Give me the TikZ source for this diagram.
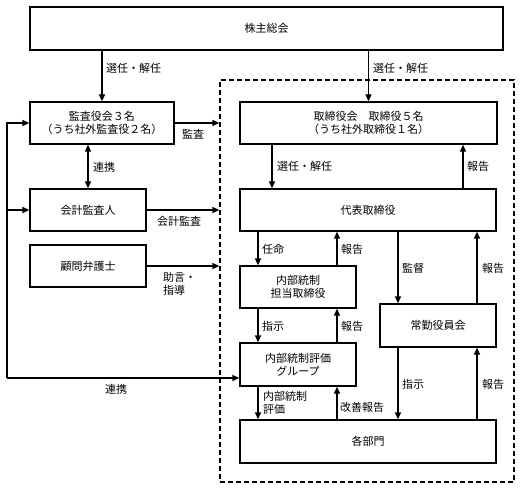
\documentclass[tikz,border=0pt]{standalone}
\usepackage{fontspec}
\setmainfont{Noto Sans CJK JP}
\usetikzlibrary{arrows.meta}
\begin{document}
\begin{tikzpicture}[x=1pt,y=-1pt,
  every node/.style={font=\fontsize{11}{13}\selectfont, inner sep=0pt},
  box/.style={draw, line width=1.3pt, align=center},
  arr/.style={line width=1.3pt, -{Triangle[length=7pt,width=6pt]}},
  darr/.style={line width=1.3pt, {Triangle[length=7pt,width=6pt]}-{Triangle[length=7pt,width=6pt]}},
  lbl/.style={anchor=west, align=left}]
\fill[white] (0,0) rectangle (522,489);
\useasboundingbox (0,0) rectangle (522,489);
% dashed frame
\node[draw, dash pattern=on 5pt off 3pt, line width=1.3pt, minimum width=294pt, minimum height=402pt] (frame) at (367,281) {};
% boxes
\node[box, minimum width=473pt, minimum height=43pt] (kabu) at (266.5,28.5) {株主総会};
\node[box, minimum width=144pt, minimum height=42pt] (kansa) at (102,123) {監査役会３名\\（うち社外監査役２名）};
\node[box, minimum width=257pt, minimum height=42pt] (tori) at (368.5,123) {取締役会　取締役５名\\（うち社外取締役１名）};
\node[box, minimum width=116pt, minimum height=42pt] (kaikei) at (88,210) {会計監査人};
\node[box, minimum width=116pt, minimum height=42pt] (komon) at (88,266) {顧問弁護士};
\node[box, minimum width=256pt, minimum height=42pt] (daihyo) at (368,210) {代表取締役};
\node[box, minimum width=116pt, minimum height=42pt] (tanto) at (298,287) {内部統制\\担当取締役};
\node[box, minimum width=116pt, minimum height=43pt] (jokin) at (438,325.5) {常勤役員会};
\node[box, minimum width=116pt, minimum height=43pt] (grp) at (298,364.5) {内部統制評価\\グループ};
\node[box, minimum width=256pt, minimum height=43pt] (bumon) at (368,441.5) {各部門};
% coordinates
\coordinate (x258) at (258,0);
\coordinate (x272) at (272,0);
\coordinate (x337) at (337,0);
\coordinate (x398) at (398,0);
\coordinate (x463) at (463,0);
\coordinate (x477) at (477,0);
\coordinate (ltop) at (7,123);
\coordinate (lbot) at (7,378);
% shareholders
\draw[arr] (kabu.south -| kansa) -- (kansa.north);
\node[lbl] at (106,68) {選任・解任};
\draw[arr] (kabu.south -| tori) -- (tori.north);
\node[lbl] at (373,68) {選任・解任};
% left side
\draw[arr] (kansa.east) -- (kansa.east -| frame.west);
\node[lbl] at (182,134) {監査};
\draw[darr] (kansa.south -| kaikei) -- (kaikei.north);
\node[lbl] at (93,167) {連携};
\draw[arr] (kaikei.east) -- (kaikei.east -| frame.west);
\node[lbl] at (157,221) {会計監査};
\draw[arr] (komon.east) -- (komon.east -| frame.west);
\node[lbl] at (163,283.5) {助言・\\指導};
% loop
\draw[arr] (lbot) -- (ltop) -- (kansa.west |- ltop);
\draw[arr] (kaikei.west -| ltop) -- (kaikei.west);
\draw[arr] (lbot) -- (grp.west |- lbot);
\node[lbl] at (105,389) {連携};
% board
\draw[arr] (tori.south -| x272) -- (daihyo.north -| x272);
\node[lbl] at (277,166) {選任・解任};
\draw[arr] (daihyo.north -| x463) -- (tori.south -| x463);
\node[lbl] at (467,166) {報告};
\draw[arr] (daihyo.south -| x258) -- (tanto.north -| x258);
\node[lbl] at (262,249) {任命};
\draw[arr] (tanto.north -| x337) -- (daihyo.south -| x337);
\node[lbl] at (341,249) {報告};
\draw[arr] (daihyo.south -| x398) -- (jokin.north -| x398);
\node[lbl] at (402,268) {監督};
\draw[arr] (jokin.north -| x477) -- (daihyo.south -| x477);
\node[lbl] at (482,268) {報告};
\draw[arr] (tanto.south -| x258) -- (grp.north -| x258);
\node[lbl] at (262,326) {指示};
\draw[arr] (grp.north -| x337) -- (tanto.south -| x337);
\node[lbl] at (341,326) {報告};
\draw[arr] (grp.south -| x258) -- (bumon.north -| x258);
\node[lbl] at (263,402.5) {内部統制\\評価};
\draw[arr] (bumon.north -| x337) -- (grp.south -| x337);
\node[lbl] at (340,407) {改善報告};
\draw[arr] (jokin.south -| x398) -- (bumon.north -| x398);
\node[lbl] at (402,384) {指示};
\draw[arr] (bumon.north -| x477) -- (jokin.south -| x477);
\node[lbl] at (482,384) {報告};
\end{tikzpicture}
\end{document}
